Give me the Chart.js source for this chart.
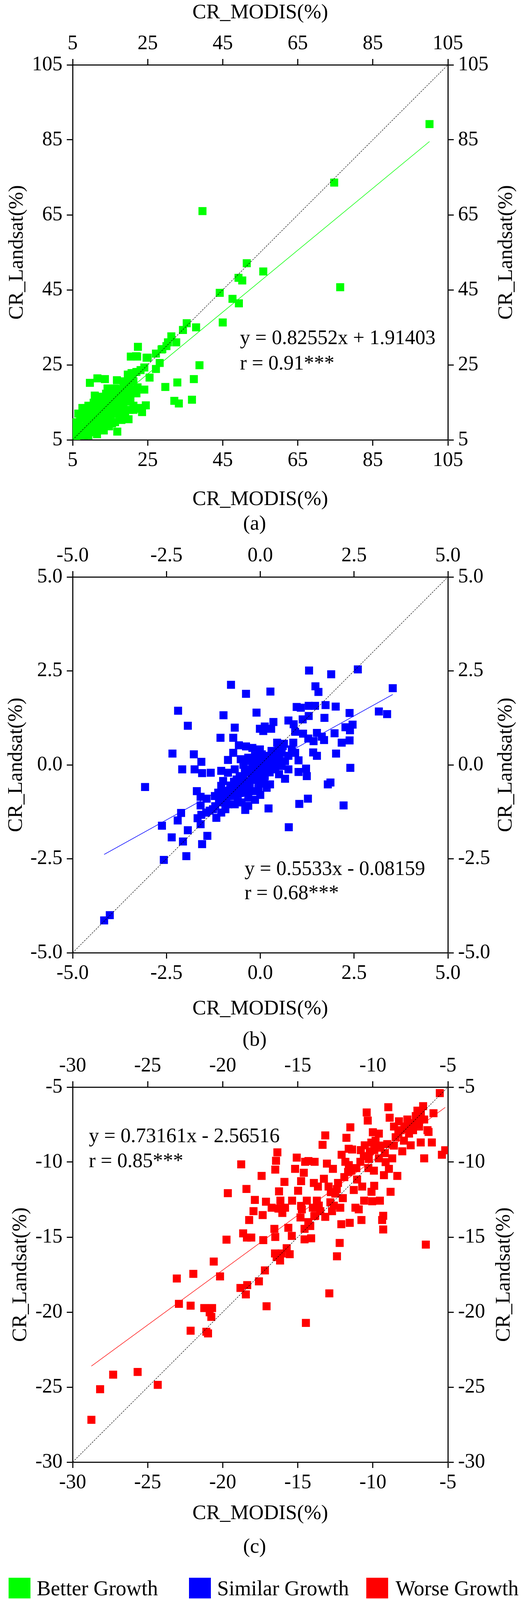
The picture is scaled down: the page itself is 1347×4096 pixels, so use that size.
<!DOCTYPE html>
<html>
<head>
<meta charset="utf-8">
<script src="https://cdn.jsdelivr.net/npm/chart.js@4.4.1/dist/chart.umd.min.js"></script>
<style>
  html, body { margin: 0; padding: 0; background: #fff; }
  #page { position: relative; width: 1347px; height: 4096px; overflow: hidden;
          font-family: "Liberation Serif", "Times New Roman", serif; color: #000; }
  canvas { position: absolute; left: 0; }
  .cap { position: absolute; left: 652px; transform: translate(-50%, -50%);
         font-size: 53px; line-height: 1; white-space: nowrap; }
  .sw { position: absolute; top: 4039px; width: 56px; height: 53px; }
  .leg { position: absolute; top: 4066px; transform: translateY(-50%);
         font-size: 54px; line-height: 1; white-space: nowrap; }
</style>
</head>
<body>
<div id="page">
  <canvas id="chartA" width="1347" height="1311" style="top:0px"></canvas>
  <div class="cap" style="top:1338px">(a)</div>
  <canvas id="chartB" width="1347" height="1258" style="top:1357px"></canvas>
  <div class="cap" style="top:2659px">(b)</div>
  <canvas id="chartC" width="1347" height="1244" style="top:2663px"></canvas>
  <div class="cap" style="top:3957px">(c)</div>

  <div class="sw" style="left:22px;background:#00ff00"></div>
  <div class="leg" style="left:94px">Better Growth</div>
  <div class="sw" style="left:484px;background:#0000ff"></div>
  <div class="leg" style="left:556px">Similar Growth</div>
  <div class="sw" style="left:938px;background:#ff0000"></div>
  <div class="leg" style="left:1013px">Worse Growth</div>
</div>
<script>
const ticksA = [5, 25, 45, 65, 85, 105];
const ticksB = [-5, -2.5, 0, 2.5, 5];
const tickLabelsB = ["-5.0", "-2.5", "0.0", "2.5", "5.0"];
const ticksC = [-30, -25, -20, -15, -10, -5];

// [CR_MODIS, CR_Landsat]
const betterPoints = [
  [100.1,89.2],[74.7,73.6],[39.6,66.0],[76.3,45.7],[51.4,52.1],[55.8,49.9],[49.2,48.2],[50.2,47.5],
  [44.2,44.2],[47.6,42.6],[49.3,41.4],[45.0,36.3],[35.4,36.1],[37.9,35.0],[34.4,34.3],[31.3,32.6],
  [32.6,31.0],[30.4,31.0],[22.4,29.8],[20.5,27.2],[22.2,27.2],[25.0,26.9],[27.2,28.0],[28.9,29.2],
  [30.0,30.0],[28.2,25.5],[27.2,23.9],[25.5,21.6],[24.1,18.4],[38.8,24.9],[37.3,21.2],[32.9,20.3],
  [29.7,19.1],[32.1,15.4],[33.3,14.7],[36.8,15.7],[24.5,14.2],[23.5,12.4],[23.1,13.3],[21.2,13.0],
  [19.9,10.5],[16.9,7.2],[9.6,20.2],[11.6,21.4],[13.6,21.2],[16.8,20.9],[5.6,5.7],[5.9,9.7],
  [7.6,13.5],[8.5,13.3],[14.3,18.7],[18.8,20.6],[19.7,22.4],[20.7,22.8],[22.0,23.1],[23.1,23.6],
  [24.1,24.3],[22.3,19.0],[22.0,17.4],[20.4,15.7],[18.5,19.5],[17.4,17.9],[16.3,18.7],[15.2,16.8],
  [15.5,15.2],[14.1,15.7],[12.8,15.4],[11.4,16.0],[10.6,14.9],[9.2,14.1],[7.9,11.9],[7.0,10.8],
  [6.5,8.9],[7.0,7.5],[8.7,6.7],[9.8,7.5],[11.4,8.1],[13.0,7.8],[14.7,8.6],[16.3,9.7],
  [18.0,10.3],[17.4,11.4],[19.0,11.9],[20.1,13.0],[18.5,13.8],[16.9,13.0],[15.5,12.4],[14.1,11.9],
  [12.8,11.4],[11.4,10.8],[10.0,10.3],[8.7,9.7],[8.1,8.6],[10.0,8.9],[12.0,9.4],[13.6,9.7],
  [15.2,10.5],[14.1,13.5],[12.5,13.5],[11.1,13.0],[10.0,11.9],[12.0,12.2],[13.3,14.6],[14.7,14.4],
  [16.1,14.4],[17.4,15.2],[18.8,15.7],[18.0,16.8],[16.9,16.3],[19.1,17.9],[20.1,19.0],[20.7,17.9],
  [21.5,18.4],[15.2,18.1],[13.9,17.3],[12.2,16.5],[10.9,16.8],[20.1,21.6],[21.2,20.6],[19.1,19.8],
  [15.8,15.7],[13.3,8.6],[15.5,9.4],[10.9,7.0],[9.2,6.2],[7.9,6.2],[13.3,7.5],[6.8,6.4],
  [5.9,8.1],[8.1,10.8],[18.8,13.0],[21.2,14.1],[22.9,13.5],[17.5,18.5],[19.5,20.5],[21.0,21.8],
  [16.0,17.0],[14.8,16.2],[12.0,13.0],[11.0,11.5],[9.0,10.0],[8.0,8.0],[7.0,8.5],[6.3,7.0],
  [9.5,9.0],[13.0,10.5],[15.0,11.0],[16.5,12.0],[18.0,14.5],[19.5,15.2],[20.0,16.5],[17.0,15.0],
  [12.0,14.3],[10.5,12.5],[9.0,11.5],[8.2,12.5],[6.5,12.0],[6.0,6.0],[5.3,6.8],[11.5,6.5],
  [14.0,9.0],[10.5,9.8],[28.7,29.1],[24.7,26.9],[21.9,27.3]
];

const similarPoints = [
  [-4.16,-4.14],[-4.01,-4.0],[-3.07,-0.59],[-2.57,-2.53],[-1.97,-2.43],[-2.06,-2.04],[-2.36,-1.93],
  [-2.62,-1.62],[-2.2,-1.48],[-2.11,-1.28],[-1.93,-1.74],[-1.55,-2.11],[-1.41,-1.89],[-1.59,-1.58],
  [-1.67,-1.42],[-1.57,-1.33],[-1.59,-1.08],[-1.59,-0.85],[-1.69,-0.70],[-1.43,-0.9],[-1.32,-0.21],
  [-1.55,-0.22],[-1.57,0.08],[-1.75,-0.12],[-1.77,0.28],[-2.08,-0.12],[-2.34,0.30],[-2.19,1.44],
  [-1.93,1.04],[-1.06,0.72],[-0.98,1.32],[-0.78,2.13],[-0.38,1.89],[0.27,1.95],[-0.1,1.39],
  [-0.68,0.99],[-0.72,0.72],[-0.57,0.52],[-0.38,0.49],[-0.21,0.45],[-0.01,0.96],[0.12,1.02],
  [0.29,0.96],[0.35,1.14],[0.08,0.9],[0.45,0.59],[0.63,0.56],[0.75,1.18],[0.89,1.08],[0.97,1.54],
  [1.08,1.52],[1.29,1.57],[1.46,1.57],[1.30,2.51],[1.89,2.41],[2.6,2.54],[1.47,2.09],[1.55,1.94],
  [1.74,1.59],[2.01,1.55],[3.53,2.04],[3.16,1.42],[3.38,1.35],[2.38,1.38],[2.46,1.07],[2.27,1.0],
  [2.39,0.92],[1.98,0.84],[1.71,1.25],[1.29,1.30],[1.13,1.21],[1.51,0.85],[1.64,0.75],[1.70,0.66],
  [1.42,0.63],[1.14,0.83],[0.93,0.88],[1.28,0.70],[2.17,0.59],[2.38,0.65],[2.02,0.30],[1.41,0.33],
  [1.51,0.24],[1.02,0.12],[1.02,-0.19],[1.22,-0.1],[1.24,-0.3],[2.4,-0.08],[1.8,-0.52],[1.87,-0.47],
  [1.27,-0.9],[1.04,-1.04],[2.22,-1.08],[0.76,-1.66],[0.22,-1.16],[-0.4,-1.2],[-0.68,-1.05],
  [-0.93,-1.18],[-1.17,-1.41],[0.66,-0.37],[0.5,-0.25],[0.17,-0.61],[0.26,-0.52],[-0.14,-0.93],
  [-0.32,-0.87],[-0.5,-0.74],[-0.77,-0.65],[-1.04,-0.56],[-1.21,-0.83],[-1.04,-1.0],[-0.86,-0.83],
  [-0.99,-0.43],[-0.86,-0.21],[-1.04,-0.16],[-0.68,-0.12],[-0.86,0.13],[-0.72,0.32],[-0.52,0.15],
  [-0.41,-0.12],[-0.23,-0.3],[-0.05,-0.48],[-0.28,-0.56],[-0.5,-0.48],[-0.63,-0.39],[-0.05,-0.16],
  [0.12,-0.03],[0.12,-0.3],[0.3,-0.12],[0.39,0.15],[0.21,0.24],[0.04,0.28],[-0.14,0.24],
  [-0.32,0.19],[-0.14,0.06],[-0.01,0.41],[0.3,0.37],[0.57,0.32],[0.75,0.24],[0.84,0.41],
  [0.66,0.1],[0.57,-0.03],[0.75,-0.12],[0.48,0.41],[0.88,0.59],[0.93,0.32],[-0.05,-0.65],
  [-0.5,-1.0],[-0.32,-1.09],[-1.12,-0.74],[-1.26,-1.18],[-1.44,-1.27],[-1.04,-1.27],[-0.68,-0.83],
  [-1.35,-1.22],[-1.2,-1.1],[-1.1,-0.95],[-0.95,-0.9],[-0.9,-0.7],[-0.8,-0.55],[-0.7,-0.45],
  [-0.6,-0.6],[-0.55,-0.3],[-0.45,-0.35],[-0.35,-0.2],[-0.3,-0.45],[-0.2,-0.1],[-0.1,-0.3],
  [0.0,-0.05],[0.05,0.1],[0.2,0.05],[0.25,-0.2],[0.35,0.3],[0.45,0.2],[-0.15,-0.7],[0.0,-0.8],
  [0.1,-0.5],[-0.6,-0.95],[-0.85,-1.05],[-1.0,-0.75],[-0.3,-0.7],[0.4,-0.05],[0.6,0.5],
  [-0.45,0.0],[-0.25,0.1],[-0.9,-0.95],[-0.75,-0.8],[-0.55,-0.75],[-0.4,-0.55],[-0.2,-0.4],
  [0.15,-0.15],[0.3,0.1],[0.5,0.15],[-0.15,-0.15],[0.05,-0.35]
];

const worsePoints = [
  [-28.75,-27.18],[-28.17,-25.14],[-27.3,-24.17],[-25.67,-23.99],[-24.33,-24.85],[-23.06,-17.76],
  [-22.92,-19.45],[-22.14,-19.57],[-22.14,-21.24],[-21.96,-17.45],[-20.6,-16.63],[-20.18,-17.62],
  [-21.23,-19.73],[-20.71,-19.73],[-20.87,-20.01],[-20.76,-20.32],[-21.09,-21.31],[-20.98,-21.42],
  [-19.75,-15.17],[-19.66,-12.07],[-18.77,-10.15],[-18.64,-14.75],[-18.82,-18.39],[-18.37,-18.2],
  [-18.46,-18.82],[-18.39,-15.03],[-18.24,-13.86],[-18.42,-11.79],[-18.1,-15.03],[-17.95,-13.27],
  [-17.86,-12.52],[-17.59,-17.95],[-17.41,-10.92],[-17.34,-13.53],[-17.19,-17.22],[-17.08,-19.61],
  [-17.3,-15.2],[-17.12,-12.64],[-16.74,-13.04],[-16.56,-14.45],[-16.5,-14.99],[-16.52,-16.09],
  [-16.41,-16.33],[-16.5,-10.5],[-16.45,-9.91],[-16.36,-9.35],[-16.25,-11.95],[-16.16,-12.57],
  [-16.29,-13.1],[-16.03,-13.39],[-15.85,-13.04],[-16.07,-16.09],[-16.18,-16.56],[-15.74,-15.74],
  [-15.54,-16.14],[-15.89,-11.32],[-15.63,-14.38],[-15.4,-14.92],[-15.38,-12.57],[-15.18,-10.45],
  [-15.07,-9.7],[-14.98,-11.91],[-14.82,-13.69],[-14.78,-12.92],[-14.73,-13.15],[-14.6,-10.71],
  [-14.78,-11.27],[-14.55,-14.45],[-14.55,-15.15],[-14.46,-20.72],[-14.51,-9.98],[-14.29,-9.93],
  [-14.4,-12.57],[-14.17,-14.26],[-14.11,-15.08],[-13.93,-11.39],[-13.88,-9.98],[-14.0,-13.04],
  [-13.84,-13.58],[-13.73,-12.57],[-13.66,-11.63],[-13.5,-13.27],[-13.35,-8.85],[-13.26,-11.11],
  [-13.17,-13.65],[-13.17,-8.22],[-13.06,-10.1],[-12.95,-11.63],[-12.9,-18.75],[-12.83,-12.68],
  [-12.72,-13.27],[-12.66,-10.45],[-12.5,-12.1],[-12.39,-16.28],[-12.32,-11.39],[-12.21,-15.39],
  [-12.17,-13.04],[-12.1,-14.14],[-12.08,-9.51],[-11.83,-9.98],[-11.76,-8.38],[-11.65,-10.66],
  [-11.61,-9.11],[-11.54,-14.05],[-11.5,-7.68],[-11.43,-10.57],[-11.38,-9.16],[-11.27,-11.86],
  [-11.16,-13.04],[-11.05,-11.16],[-10.94,-13.15],[-10.83,-9.98],[-10.76,-13.86],[-10.71,-11.63],
  [-10.58,-12.57],[-10.54,-8.88],[-10.41,-6.69],[-10.34,-7.23],[-10.27,-9.79],[-10.2,-9.28],
  [-10.09,-11.98],[-10.04,-12.61],[-10.0,-8.01],[-9.93,-10.57],[-9.91,-11.58],[-9.82,-8.57],
  [-9.71,-9.04],[-9.6,-9.75],[-9.53,-12.57],[-9.38,-13.86],[-9.31,-13.58],[-9.31,-14.49],
  [-9.26,-10.87],[-9.15,-10.0],[-9.04,-8.8],[-8.93,-10.45],[-8.88,-7.04],[-8.82,-11.98],
  [-8.71,-9.75],[-8.59,-7.63],[-8.48,-8.34],[-8.37,-10.92],[-8.26,-7.28],[-8.15,-7.87],
  [-8.04,-9.28],[-7.93,-8.57],[-7.81,-7.63],[-7.7,-7.16],[-7.59,-8.1],[-7.48,-8.88],
  [-7.32,-7.87],[-7.14,-6.93],[-7.03,-6.57],[-6.92,-7.63],[-6.81,-8.69],[-6.65,-6.27],
  [-6.58,-7.16],[-6.58,-9.75],[-6.47,-15.5],[-6.36,-7.87],[-6.29,-7.99],[-6.07,-8.69],
  [-5.96,-6.74],[-5.54,-5.4],[-5.4,-9.51],[-5.18,-9.21],[-8.97,-6.34],
  [-12.8,-12.0],[-12.4,-11.8],[-11.9,-11.0],[-11.6,-10.2],[-11.1,-10.4],[-10.6,-9.6],
  [-10.3,-10.4],[-9.9,-9.2],[-9.5,-8.9],[-9.2,-9.4],[-8.6,-8.9],[-8.3,-8.1],[-7.9,-7.8],
  [-7.4,-7.4],[-7.0,-7.2],[-6.8,-6.8],[-9.6,-8.1],[-10.1,-8.7],[-10.8,-9.2],[-13.6,-12.9],
  [-13.9,-13.6],[-14.3,-14.0],[-12.6,-12.9],[-12.0,-12.4]
];

const fitA = { slope: 0.82552, intercept: 1.91403 };
const fitB = { slope: 0.5533, intercept: -0.08159 };
const fitC = { slope: 0.73161, intercept: -2.56516 };

const FONT = '"Liberation Serif", "Times New Roman", serif';
Chart.defaults.font.family = FONT;
Chart.defaults.color = "#000";

const PLOT_LEFT = 186;
const PLOT_RIGHT = 1147;

function axis(position, range, ticks, labels, size, title) {
  const vertical = position === "left" || position === "right";
  return {
    type: "linear",
    position: position,
    min: range[0],
    max: range[1],
    afterBuildTicks: (s) => { s.ticks = ticks.map((v) => ({ value: v })); },
    afterFit: (s) => { if (vertical) s.width = size; else s.height = size; },
    ticks: {
      callback: (v, i) => labels[i],
      color: "#000",
      font: { size: 52 },
      padding: vertical ? 11 : 7,
      maxRotation: 0,
      autoSkip: false,
    },
    grid: { drawOnChartArea: false, drawTicks: true, tickLength: 15, tickWidth: 2.8, tickColor: "#000", color: "#000" },
    border: { display: true, color: "#000", width: 2.8 },
    title: title
      ? { display: true, text: title.text, color: "#000", font: { size: 53 }, padding: title.padding }
      : { display: false },
  };
}

function textPlugin(lines, rightTitleX) {
  return {
    id: "panelText",
    afterDraw(chart) {
      const { ctx, chartArea, scales } = chart;
      ctx.save();
      ctx.fillStyle = "#000";
      ctx.font = "52px " + FONT;
      ctx.textAlign = "left";
      ctx.textBaseline = "middle";
      lines.forEach((l) => {
        ctx.fillText(l.text, scales.x.getPixelForValue(l.x), scales.y.getPixelForValue(l.y));
      });
      // right axis title reads bottom to top, like the left one
      ctx.font = "53px " + FONT;
      ctx.translate(rightTitleX, (chartArea.top + chartArea.bottom) / 2);
      ctx.rotate(-Math.PI / 2);
      ctx.textAlign = "center";
      ctx.fillText("CR_Landsat(%)", 0, 0);
      ctx.restore();
    },
  };
}

function makePanel(id, p) {
  const xs = p.points.map((d) => d[0]);
  const x0 = Math.min(...xs);
  const x1 = Math.max(...xs);
  const fitLine = [
    { x: x0, y: p.fit.slope * x0 + p.fit.intercept },
    { x: x1, y: p.fit.slope * x1 + p.fit.intercept },
  ];
  const r = p.range;
  new Chart(document.getElementById(id), {
    type: "scatter",
    data: {
      datasets: [
        {
          data: [{ x: r[0], y: r[0] }, { x: r[1], y: r[1] }],
          showLine: true, borderColor: "#000", borderWidth: 1.2, borderDash: [4, 3],
          pointRadius: 0, order: 0,
        },
        {
          data: fitLine,
          showLine: true, borderColor: p.color, borderWidth: 1.4,
          pointRadius: 0, order: 1,
        },
        {
          data: p.points.map((d) => ({ x: d[0], y: d[1] })),
          pointStyle: "rect", pointRadius: 14.5, pointHoverRadius: 14.5,
          backgroundColor: p.color, pointBackgroundColor: p.color,
          borderWidth: 0, pointBorderWidth: 0, order: 2,
        },
      ],
    },
    options: {
      responsive: false,
      animation: false,
      devicePixelRatio: 1,
      events: [],
      layout: { padding: 0 },
      plugins: { legend: { display: false }, tooltip: { enabled: false } },
      scales: {
        x: axis("bottom", r, p.ticks, p.labels, p.bottomH, { text: "CR_MODIS(%)", padding: 0 }),
        x2: axis("top", r, p.ticks, p.labels, p.topH, p.topTitle ? { text: "CR_MODIS(%)", padding: { top: 1, bottom: 0 } } : null),
        y: axis("left", r, p.ticks, p.labels, PLOT_LEFT, { text: "CR_Landsat(%)", padding: { top: p.leftTitlePad, bottom: 0 } }),
        y2: axis("right", r, p.ticks, p.labels, 1347 - PLOT_RIGHT, null),
      },
    },
    plugins: [textPlugin(p.text, p.rightTitleX)],
  });
}

makePanel("chartA", {
  points: betterPoints, color: "#00ff00", fit: fitA, range: [5, 105],
  ticks: ticksA, labels: ticksA.map(String),
  topH: 166, bottomH: 185, topTitle: true, leftTitlePad: 12, rightTitleX: 1297,
  text: [
    { text: "y = 0.82552x + 1.91403", x: 49.6, y: 31.9 },
    { text: "r = 0.91***", x: 49.6, y: 25.2 },
  ],
});

makePanel("chartB", {
  points: similarPoints, color: "#0000ff", fit: fitB, range: [-5, 5],
  ticks: ticksB, labels: tickLabelsB,
  topH: 120, bottomH: 176, topTitle: false, leftTitlePad: 10, rightTitleX: 1296,
  text: [
    { text: "y = 0.5533x - 0.08159", x: -0.42, y: -2.79 },
    { text: "r = 0.68***", x: -0.42, y: -3.43 },
  ],
});

makePanel("chartC", {
  points: worsePoints, color: "#ff0000", fit: fitC, range: [-30, -5],
  ticks: ticksC, labels: ticksC.map(String),
  topH: 120, bottomH: 164, topTitle: false, leftTitlePad: 21, rightTitleX: 1291,
  text: [
    { text: "y = 0.73161x - 2.56516", x: -28.92, y: -8.32 },
    { text: "r = 0.85***", x: -28.92, y: -9.97 },
  ],
});
</script>
</body>
</html>
